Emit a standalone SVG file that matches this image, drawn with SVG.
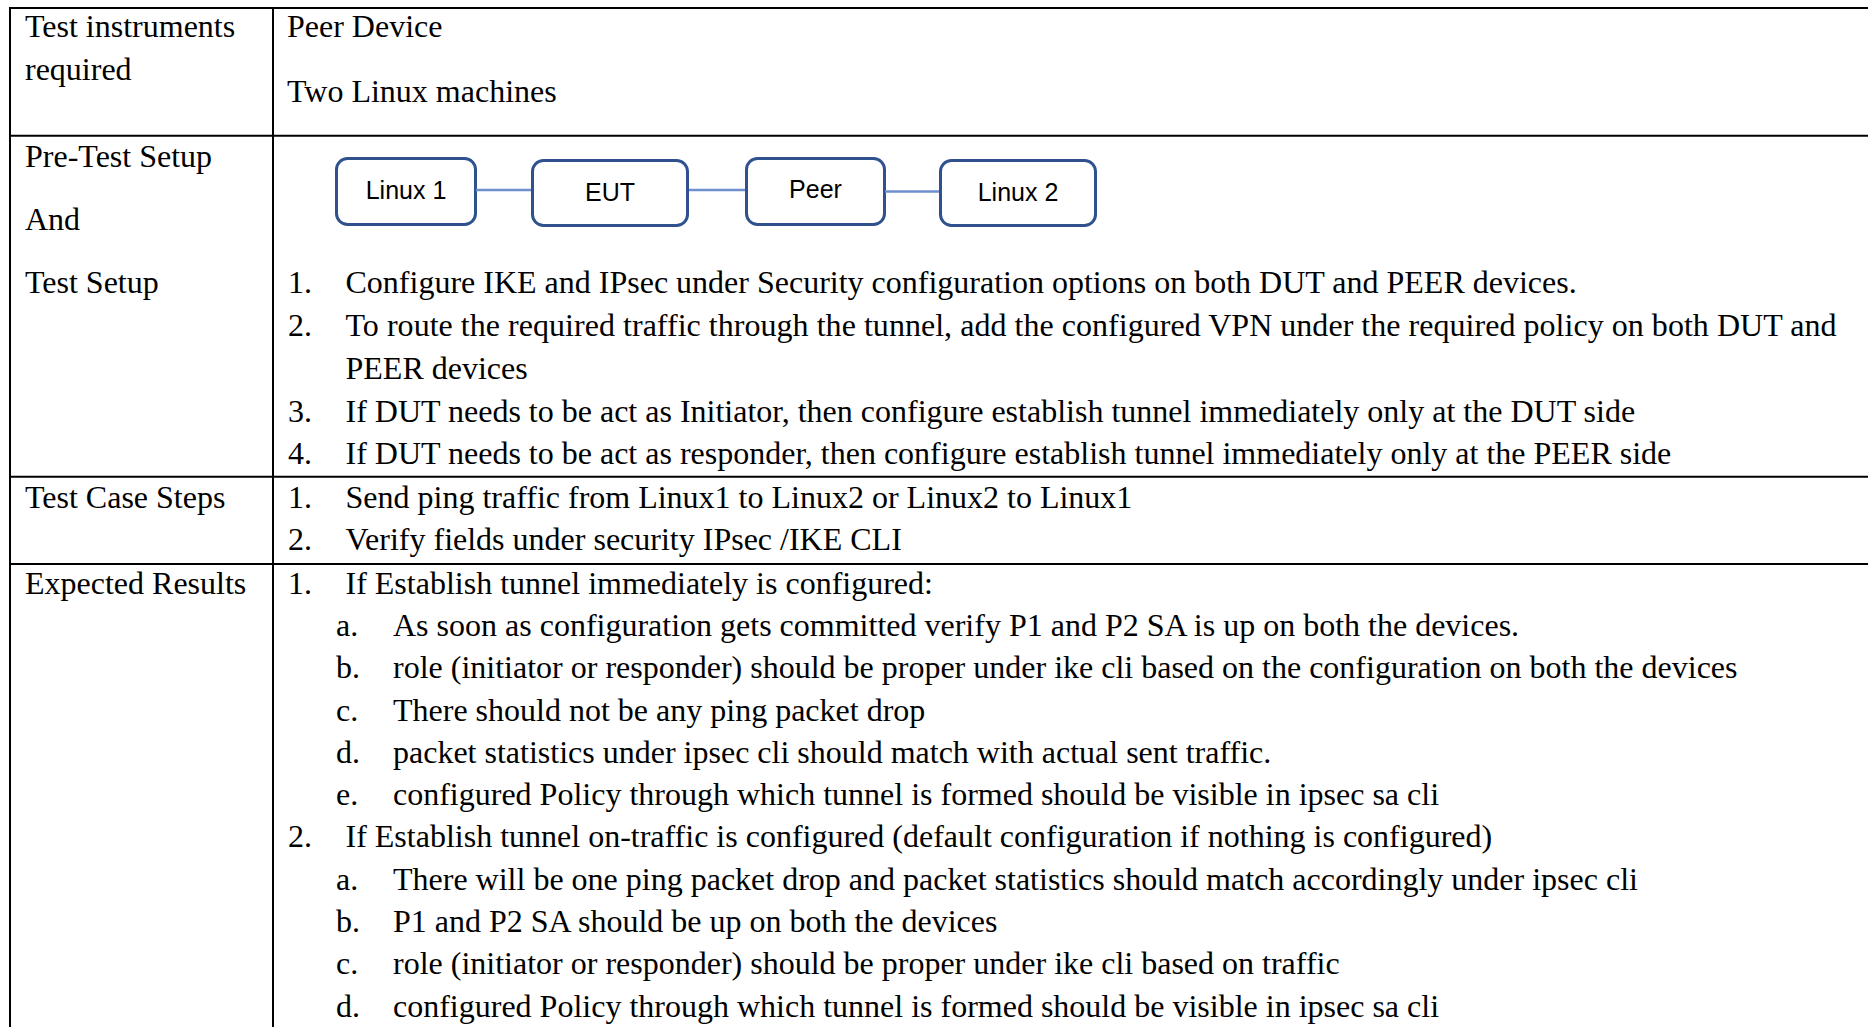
<svg xmlns="http://www.w3.org/2000/svg" width="1868" height="1027" viewBox="0 0 1868 1027">
  <style>
    .grid { stroke: #000; stroke-width: 2; fill: none; }
    .t { font-family: "Liberation Serif", "Times New Roman", serif; font-size: 32px; fill: #000; }
    .box { fill: #fff; stroke: #2F528F; stroke-width: 3; }
    .lbl { font-family: "Liberation Sans", Arial, sans-serif; font-size: 25px; fill: #000; text-anchor: middle; }
    .link { stroke: #6F8FD0; stroke-width: 2.5; fill: none; }
  </style>
  <rect width="1868" height="1027" fill="#fff"/>

  <!-- table rules -->
  <g id="table-grid" class="grid">
    <line x1="10" y1="8" x2="1868" y2="8"/>
    <line x1="10" y1="7" x2="10" y2="1027"/>
    <line x1="273" y1="7" x2="273" y2="1027"/>
    <line x1="10" y1="135.7" x2="1868" y2="135.7"/>
    <line x1="10" y1="476.7" x2="1868" y2="476.7"/>
    <line x1="10" y1="564" x2="1868" y2="564"/>
  </g>

  <!-- row: instruments -->
  <g id="row-instruments" class="t" transform="translate(0,1.2)">
    <text x="25" y="36.2">Test instruments</text>
    <text x="25" y="79.1">required</text>
    <text x="287" y="36.2">Peer Device</text>
    <text x="287" y="100.5">Two Linux machines</text>
  </g>

  <!-- row: setup -->
  <g id="row-setup" class="t" transform="translate(0,1.2)">
    <text x="25" y="166">Pre-Test Setup</text>
    <text x="25" y="229.2">And</text>
    <text x="25" y="292.3">Test Setup</text>
    <text x="288" y="292.3">1.</text>
    <text x="345.5" y="292.3">Configure IKE and IPsec under Security configuration options on both DUT and PEER devices.</text>
    <text x="288" y="335.2">2.</text>
    <text x="345.5" y="335.2" textLength="1491" lengthAdjust="spacing">To route the required traffic through the tunnel, add the configured VPN under the required policy on both DUT and</text>
    <text x="345.5" y="378.1">PEER devices</text>
    <text x="288" y="421">3.</text>
    <text x="345.5" y="421">If DUT needs to be act as Initiator, then configure establish tunnel immediately only at the DUT side</text>
    <text x="288" y="462.7">4.</text>
    <text x="345.5" y="462.7">If DUT needs to be act as responder, then configure establish tunnel immediately only at the PEER side</text>
  </g>

  <!-- topology nodes -->
  <g id="node-linux1">
    <rect class="box" x="336.5" y="158.5" width="139" height="66" rx="11"/>
    <text class="lbl" x="406" y="199.3">Linux 1</text>
  </g>
  <g id="node-eut">
    <rect class="box" x="532.5" y="160.5" width="155" height="65" rx="11"/>
    <text class="lbl" x="610" y="201">EUT</text>
  </g>
  <g id="node-peer">
    <rect class="box" x="746.5" y="158.5" width="138" height="66" rx="11"/>
    <text class="lbl" x="815.5" y="198">Peer</text>
  </g>
  <g id="node-linux2">
    <rect class="box" x="940.5" y="160.5" width="155" height="65" rx="11"/>
    <text class="lbl" x="1018" y="201">Linux 2</text>
  </g>

  <!-- topology links -->
  <g id="connectors" class="link">
    <line x1="476" y1="190" x2="531" y2="190"/>
    <line x1="689" y1="190" x2="745" y2="190"/>
    <line x1="885" y1="191.5" x2="939" y2="191.5"/>
  </g>

  <!-- row: steps -->
  <g id="row-steps" class="t" transform="translate(0,1.2)">
    <text x="25" y="506.8">Test Case Steps</text>
    <text x="288" y="506.8">1.</text>
    <text x="345.5" y="506.8">Send ping traffic from Linux1 to Linux2 or Linux2 to Linux1</text>
    <text x="288" y="548.5">2.</text>
    <text x="345.5" y="548.5">Verify fields under security IPsec /IKE CLI</text>
  </g>

  <!-- row: expected results -->
  <g id="row-results" class="t" transform="translate(0,1.2)">
    <text x="25" y="592.5">Expected Results</text>
    <text x="288" y="592.5">1.</text>
    <text x="345.5" y="592.5">If Establish tunnel immediately is configured:</text>
    <text x="336" y="634.8">a.</text>
    <text x="393" y="634.8">As soon as configuration gets committed verify P1 and P2 SA is up on both the devices.</text>
    <text x="336" y="677.1">b.</text>
    <text x="393" y="677.1">role (initiator or responder) should be proper under ike cli based on the configuration on both the devices</text>
    <text x="336" y="719.4">c.</text>
    <text x="393" y="719.4">There should not be any ping packet drop</text>
    <text x="336" y="761.7">d.</text>
    <text x="393" y="761.7">packet statistics under ipsec cli should match with actual sent traffic.</text>
    <text x="336" y="804">e.</text>
    <text x="393" y="804">configured Policy through which tunnel is formed should be visible in ipsec sa cli</text>
    <text x="288" y="846.3">2.</text>
    <text x="345.5" y="846.3">If Establish tunnel on-traffic is configured (default configuration if nothing is configured)</text>
    <text x="336" y="888.6">a.</text>
    <text x="393" y="888.6">There will be one ping packet drop and packet statistics should match accordingly under ipsec cli</text>
    <text x="336" y="930.9">b.</text>
    <text x="393" y="930.9">P1 and P2 SA should be up on both the devices</text>
    <text x="336" y="973.2">c.</text>
    <text x="393" y="973.2">role (initiator or responder) should be proper under ike cli based on traffic</text>
    <text x="336" y="1015.5">d.</text>
    <text x="393" y="1015.5">configured Policy through which tunnel is formed should be visible in ipsec sa cli</text>
  </g>
</svg>
